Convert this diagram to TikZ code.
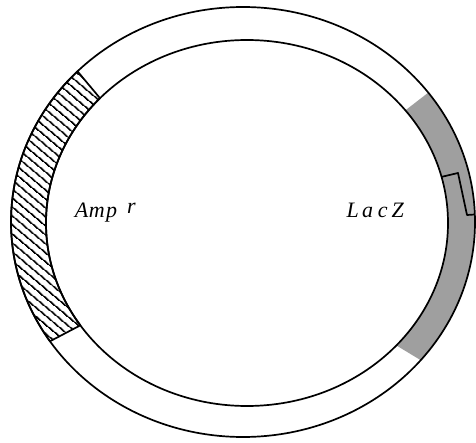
\documentclass[tikz,border=0pt]{standalone}
\usepackage{fontspec}
\setmainfont{Liberation Serif}
\usetikzlibrary{patterns.meta,calc}
\newcommand\cellch[1]{\makebox[15pt][c]{#1}}
\begin{document}
\begin{tikzpicture}[x=1pt,y=1pt,
  ring/.style={line width=1.7pt,line join=round},
  genelabel/.style={font=\fontsize{22}{22}\selectfont\itshape,inner sep=0pt,anchor=base west}]
\useasboundingbox (0,0) rectangle (476,442);
\coordinate (oc) at (243,220);
\coordinate (ic) at (247,219);
% LacZ band (gray)
\fill[gray!75] ($(oc)+(-40:232pt and 215pt)$) arc[start angle=-40,end angle=37,x radius=232,y radius=215]
  -- ($(ic)+(38:201pt and 183pt)$) arc[start angle=38,end angle=-42,x radius=201,y radius=183] -- cycle;
% Amp band (hatched)
\draw[ring,pattern={Lines[angle=-40,distance=6.5pt,line width=1.7pt]}]
  ($(oc)+(135.5:232pt and 215pt)$) arc[start angle=135.5,end angle=213.7,x radius=232,y radius=215]
  -- ($(ic)+(214:201pt and 183pt)$) arc[start angle=214,end angle=137,x radius=201,y radius=183] -- cycle;
% rings
\draw[ring] (oc) ellipse[x radius=232,y radius=215];
\draw[ring] (ic) ellipse[x radius=201,y radius=183];
% notch in LacZ
\coordinate (n1) at ($(ic)+(14.6:201pt and 183pt)$);
\coordinate (n2) at (458,269);
\coordinate (n3) at (467,227);
\coordinate (n4) at ($(oc)+(2:232pt and 215pt)$);
\draw[ring] (n1) -- (n2) -- (n3) -- (n4);
% labels
\node[genelabel] (amp) at (74,224.5) {\cellch{A}\cellch{m}\cellch{p}\hspace{8pt}\raisebox{4pt}{r}};
\node[genelabel] (lacz) at (345,224.5) {\cellch{L}\cellch{a}\cellch{c}\cellch{Z}};
\end{tikzpicture}
\end{document}
